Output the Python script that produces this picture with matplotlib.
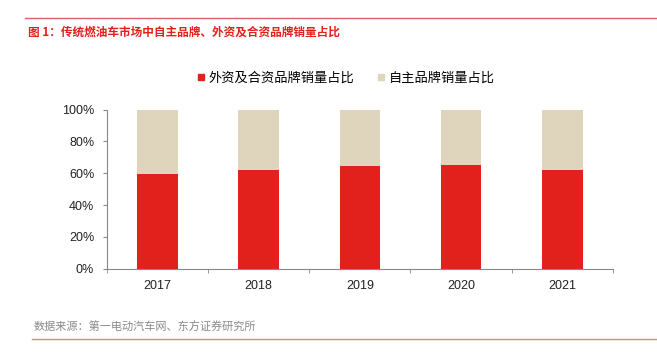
import matplotlib
matplotlib.use("Agg")
import matplotlib.pyplot as plt
from matplotlib.lines import Line2D
import numpy as np

plt.rcParams['font.family'] = ['Liberation Sans', 'Noto Sans CJK SC', 'DejaVu Sans']

years = ['2017', '2018', '2019', '2020', '2021']
foreign_share = [59.6, 62.1, 64.8, 65.2, 62.3]
domestic_share = [100 - v for v in foreign_share]
series_names = ['外资及合资品牌销量占比', '自主品牌销量占比']
title = '图 1：传统燃油车市场中自主品牌、外资及合资品牌销量占比'
source = '数据来源：第一电动汽车网、东方证券研究所'

red = '#E2211C'
beige = '#DFD5BD'

fig = plt.figure(figsize=(6.57, 3.63), dpi=100)
ax = fig.add_axes([0.1624, 0.2598, 0.7706, 0.438])

x = np.arange(len(years))
ax.bar(x, foreign_share, width=0.4, color=red, label=series_names[0])
ax.bar(x, domestic_share, width=0.4, bottom=foreign_share, color=beige, label=series_names[1])

ax.set_xlim(-0.5, len(years) - 0.5)
ax.set_ylim(0, 100)
ax.set_yticks(np.arange(0, 101, 20))
ax.set_yticklabels([f'{v}%' for v in range(0, 101, 20)], fontsize=9, color='#222222')
ax.set_xticks(x)
ax.set_xticklabels(years, fontsize=9, color='#222222')
ax.set_xticks(np.arange(-0.5, len(years), 1), minor=True)
ax.tick_params(axis='x', which='major', length=0, pad=8)
ax.tick_params(axis='x', which='minor', length=3, color='#888888', direction='out')
ax.tick_params(axis='y', length=3, color='#888888', pad=6)
for s in ['top', 'right']:
    ax.spines[s].set_visible(False)
for s in ['left', 'bottom']:
    ax.spines[s].set_color('#888888')
    ax.spines[s].set_linewidth(0.8)

handles = [Line2D([], [], marker='s', linestyle='', markersize=5, color=red),
           Line2D([], [], marker='s', linestyle='', markersize=5, color=beige)]
fig.legend(handles, series_names, loc='center', bbox_to_anchor=(0.525, 0.785), ncol=2,
           frameon=False, handletextpad=0.2, columnspacing=1.6,
           handlelength=0.8, prop={'family': ['Noto Sans CJK SC'], 'size': 9.5})

# header line and title
fig.add_artist(Line2D([25/657, 1], [1 - 17.5/363, 1 - 17.5/363], color='#E06060', linewidth=1.0))
fig.text(28/657, 1 - 32/363, title, color=red, fontsize=8.4, fontweight='bold',
         family=['Noto Sans CJK SC', 'DejaVu Sans'], va='center', ha='left')

# footer
fig.text(34/657, 1 - 327/363, source, color='#8a8a8a', fontsize=8,
         family=['Noto Sans CJK SC', 'DejaVu Sans'], va='center', ha='left')
fig.add_artist(Line2D([32/657, 1], [1 - 339/363, 1 - 339/363], color='#D98A80', linewidth=1.0))

fig.savefig('out.png', dpi=100)
